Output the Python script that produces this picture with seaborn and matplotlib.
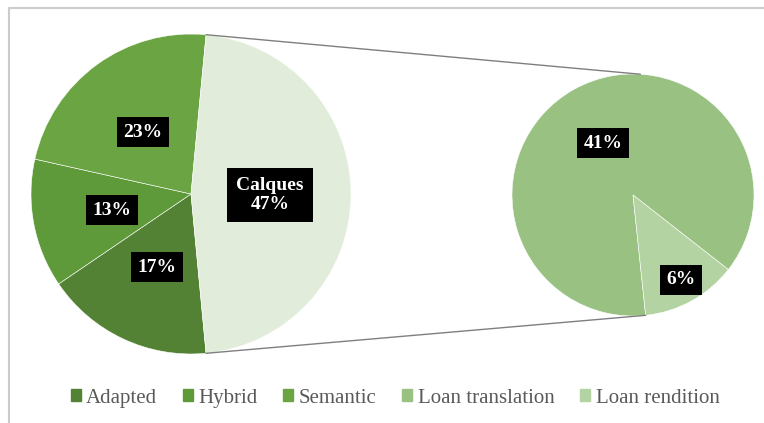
import matplotlib
matplotlib.use("Agg")
import matplotlib.pyplot as plt
import matplotlib.patches as mpatches
import seaborn as sns
import numpy as np

# ---- data ----
main_labels = ["Adapted", "Hybrid", "Semantic", "Calques"]
main_values = [17, 13, 23, 47]
sub_labels = ["Loan translation", "Loan rendition"]
sub_values = [41, 6]
legend_labels = ["Adapted", "Hybrid", "Semantic", "Loan translation", "Loan rendition"]

main_colors = ["#548235", "#5e9a3a", "#6aa443", "#e2ecda"]
sub_colors = ["#98c182", "#b3d3a2"]

sns.set_theme(style="white")
plt.rcParams["font.family"] = ["Liberation Serif", "DejaVu Serif"]

W, H = 764, 423
fig = plt.figure(figsize=(W / 100, H / 100), dpi=100)
ax = fig.add_axes([0, 0, 1, 1])
ax.set_xlim(0, W)
ax.set_ylim(0, H)
ax.set_aspect("equal")
ax.axis("off")

# frame of chart area
ax.plot([8.5, 8.5, W + 5], [-5, H - 7.5, H - 7.5], color="#cccccc", lw=1.5, zorder=0)

c1, r1 = (191, H - 194), 160
c2, r2 = (633, H - 195), 121

other = main_values[-1]
start1 = -180 * other / 100.0  # calques centred on the right
ax.pie(main_values, colors=main_colors, center=c1, radius=r1,
       startangle=start1, counterclock=False,
       wedgeprops=dict(linewidth=0.4, edgecolor="white"))
ax.pie(sub_values, colors=sub_colors, center=c2, radius=r2,
       startangle=-84, counterclock=False,
       wedgeprops=dict(linewidth=0.4, edgecolor="white"))
ax.set_xlim(0, W)
ax.set_ylim(0, H)

# connector lines
a_top = np.deg2rad(-start1)
a_bot = np.deg2rad(start1)
p1t = (c1[0] + r1 * np.cos(a_top), c1[1] + r1 * np.sin(a_top))
p1b = (c1[0] + r1 * np.cos(a_bot), c1[1] + r1 * np.sin(a_bot))
p2t = (c2[0] + r2 * np.cos(np.deg2rad(86.5)), c2[1] + r2 * np.sin(np.deg2rad(86.5)))
p2b = (c2[0] + r2 * np.cos(np.deg2rad(-84)), c2[1] + r2 * np.sin(np.deg2rad(-84)))
ax.plot([p1t[0], p2t[0]], [p1t[1], p2t[1]], color="#7f7f7f", lw=1.0)
ax.plot([p1b[0], p2b[0]], [p1b[1], p2b[1]], color="#7f7f7f", lw=1.0)

lab_kw = dict(color="white", fontsize=14, fontweight="bold", ha="center", va="center",
              linespacing=1.1)
label_pos = [(157, 267), (112, 210), (143, 132), (270, 195)]
for (x, y), v, name in zip(label_pos, main_values, main_labels):
    if name == "Calques":
        txt = f"{name}\n{v}%"
        box = dict(boxstyle="square,pad=0.5", fc="black", ec="none")
    else:
        txt = f"{v}%"
        box = dict(boxstyle="square,pad=0.33", fc="black", ec="none")
    ax.text(x, H - y, txt, bbox=box, **lab_kw)
sub_pos = [(603, 143), (681, 280)]
for (x, y), v in zip(sub_pos, sub_values):
    ax.text(x, H - y, f"{v}%", bbox=dict(boxstyle="square,pad=0.33", fc="black", ec="none"),
            **lab_kw)

handles = [mpatches.Patch(color=c) for c in main_colors[:3] + sub_colors]
leg = fig.legend(handles, legend_labels, loc="center", bbox_to_anchor=(395 / W, 1 - 398 / H),
                 ncol=5, frameon=False, fontsize=15, handlelength=0.48, handleheight=0.48,
                 handletextpad=0.25, columnspacing=1.25, labelcolor="#595959")

fig.savefig("out.png", dpi=100)
